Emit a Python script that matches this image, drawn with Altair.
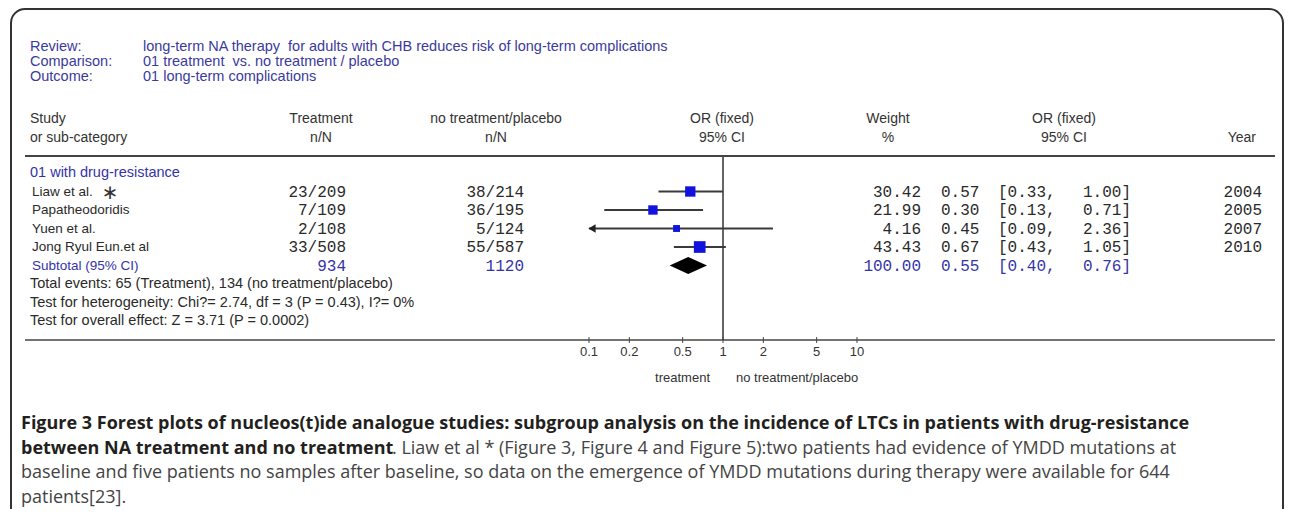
import altair as alt
import pandas as pd

# ---------------- data ----------------
review_labels = ["Review:", "Comparison:", "Outcome:"]
review_values = [
    "long-term NA therapy \u00a0for adults with CHB reduces risk of long-term complications",
    "01 treatment \u00a0vs. no treatment / placebo",
    "01 long-term complications",
]
col_study = ["Study", "or sub-category"]
col_treat = ["Treatment", "n/N"]
col_ctrl = ["no treatment/placebo", "n/N"]
col_or = ["OR (fixed)", "95% CI"]
col_weight = ["Weight", "%"]
col_or2 = ["OR (fixed)", "95% CI"]
col_year = ["", "Year"]

group_label = "01 with drug-resistance"
studies = ["Liaw et al.", "Papatheodoridis", "Yuen et al.", "Jong Ryul Eun.et al"]
treat_events = [23, 7, 2, 33]
treat_total = [209, 109, 108, 508]
ctrl_events = [38, 36, 5, 55]
ctrl_total = [214, 195, 124, 587]
weights = [30.42, 21.99, 4.16, 43.43]
or_est = [0.57, 0.30, 0.45, 0.67]
ci_lo = [0.33, 0.13, 0.09, 0.43]
ci_hi = [1.00, 0.71, 2.36, 1.05]
years = [2004, 2005, 2007, 2010]

subtotal_label = "Subtotal (95% CI)"
sub_treat_total = 934
sub_ctrl_total = 1120
sub_weight = 100.00
sub_or = 0.55
sub_lo = 0.40
sub_hi = 0.76

footer_lines = [
    "Total events: 65 (Treatment), 134 (no treatment/placebo)",
    "Test for heterogeneity: Chi?= 2.74, df = 3 (P = 0.43), I?= 0%",
    "Test for overall effect: Z = 3.71 (P = 0.0002)",
]
axis_ticks = [0.1, 0.2, 0.5, 1, 2, 5, 10]
axis_tick_labels = ["0.1", "0.2", "0.5", "1", "2", "5", "10"]
favours_left = "treatment"
favours_right = "no treatment/placebo"
null_value = [1]

caption_bold = [
    "Figure 3 Forest plots of nucleos(t)ide analogue studies: subgroup analysis on the incidence of LTCs in patients with drug-resistance",
    "between NA treatment and no treatment",
]
caption_line2_rest = ". Liaw et al * (Figure 3, Figure 4 and Figure 5):two patients had evidence of YMDD mutations at"
caption_rest = [
    "baseline and five patients no samples after baseline, so data on the emergence of YMDD mutations during therapy were available for 644",
    "patients[23].",
]

# ---------------- tables ----------------
n = len(studies)
table = pd.DataFrame({
    "row": list(range(1, n + 1)) + [n + 1],
    "kind": ["study"] * n + ["total"],
    "name": studies + [subtotal_label],
    "treat": [f"{a}/{b}" for a, b in zip(treat_events, treat_total)] + [str(sub_treat_total)],
    "ctrl": [f"{a}/{b}" for a, b in zip(ctrl_events, ctrl_total)] + [str(sub_ctrl_total)],
    "weight": [f"{w:.2f}" for w in weights] + [f"{sub_weight:.2f}"],
    "est": [f"{v:.2f}" for v in or_est] + [f"{sub_or:.2f}"],
    "lo": [f"[{v:.2f}," for v in ci_lo] + [f"[{sub_lo:.2f},"],
    "hi": [f"{v:.2f}]" for v in ci_hi] + [f"{sub_hi:.2f}]"],
    "year": [str(y) for y in years] + [""],
})
forest = pd.DataFrame({
    "row": list(range(1, n + 1)),
    "est": or_est, "lo": ci_lo, "hi": ci_hi, "weight": weights,
})
diamond = pd.DataFrame({"x": [sub_lo, sub_or, sub_hi], "peak": [0, 1, 0], "row": [n + 1] * 3})
group_df = pd.DataFrame({"row": [0], "text": [group_label]})
footer_df = pd.DataFrame({"row": list(range(n + 2, n + 2 + len(footer_lines))), "text": footer_lines})
ticks_df = pd.DataFrame({"v": axis_ticks, "label": axis_tick_labels})
null_df = pd.DataFrame({"v": null_value})
one = pd.DataFrame({"a": [0]})

# ---------------- styling ----------------
W, H = 1277, 501
SANS = "Liberation Sans"
MONO = "Liberation Mono"
CAP = "Open Sans"
BLUE = "#3434a8"
DARK = "#2a2a2a"
CAPSIZE = 18
xs = alt.Scale(type="log", domain=[0.1, 10], range=[581, 849])
ys = alt.Scale(domain=[0, 8], range=[165, 313], nice=False, zero=False)
Y = alt.Y("row:Q", scale=ys, axis=None)
COLOR = alt.Color("kind:N", scale=alt.Scale(domain=["study", "total"], range=[DARK, BLUE]), legend=None)

layers = []

# frame
layers.append(alt.Chart(one).mark_rect(fillOpacity=0, stroke="#333333", strokeWidth=2, cornerRadius=14).encode(
    x=alt.value(3), x2=alt.value(1275), y=alt.value(1), y2=alt.value(560)))

# top header (multi-line)
layers.append(alt.Chart(one).mark_text(align="left", baseline="alphabetic", font=SANS, fontSize=14.5,
                                       lineHeight=15, color="#3a3a9c").encode(
    x=alt.value(22), y=alt.value(43), text=alt.value(review_labels)))
layers.append(alt.Chart(one).mark_text(align="left", baseline="alphabetic", font=SANS, fontSize=14.5,
                                       lineHeight=15, color="#3a3a9c").encode(
    x=alt.value(135), y=alt.value(43), text=alt.value(review_values)))

# column headers
for txt, xp, al in [(col_study, 22, "left"), (col_treat, 313, "center"), (col_ctrl, 488, "center"),
                    (col_or, 714, "center"), (col_weight, 880, "center"), (col_or2, 1056, "center"),
                    (col_year, 1248, "right")]:
    layers.append(alt.Chart(one).mark_text(align=al, baseline="alphabetic", font=SANS, fontSize=14,
                                           lineHeight=19, color="#333333").encode(
        x=alt.value(xp), y=alt.value(115), text=alt.value(txt)))

# header separator & axis line
layers.append(alt.Chart(one).mark_rule(color="#444444", strokeWidth=2).encode(
    x=alt.value(17), x2=alt.value(1267), y=alt.value(148)))
layers.append(alt.Chart(one).mark_rule(color="#444444", strokeWidth=1.5).encode(
    x=alt.value(17), x2=alt.value(1267), y=alt.value(332)))

# group label, footer
layers.append(alt.Chart(group_df).mark_text(align="left", baseline="middle", font=SANS, fontSize=14.5,
                                            color=BLUE).encode(x=alt.value(22), y=Y, text="text:N"))
layers.append(alt.Chart(footer_df).mark_text(align="left", baseline="middle", font=SANS, fontSize=14.5,
                                             color=DARK).encode(x=alt.value(22), y=Y, text="text:N"))

# study table columns
layers.append(alt.Chart(table).mark_text(align="left", baseline="middle", font=SANS, fontSize=13.5).encode(
    x=alt.value(24), y=Y, text="name:N", color=COLOR))
for fld, xp, al in [("treat", 338, "right"), ("ctrl", 516, "right"), ("weight", 913, "right"),
                    ("est", 933, "left"), ("lo", 990, "left"), ("hi", 1123, "right"), ("year", 1254, "right")]:
    layers.append(alt.Chart(table).mark_text(align=al, baseline="middle", font=MONO, fontSize=16).encode(
        x=alt.value(xp), y=Y, text=f"{fld}:N", color=COLOR))

# asterisk for Liaw
layers.append(alt.Chart(table).transform_filter("datum.row == 1").mark_text(
    align="center", baseline="middle", font="DejaVu Sans", fontSize=20, color="#333333", dy=1).encode(
    x=alt.value(102), y=Y, text=alt.value("\u2217")))

# null line
layers.append(alt.Chart(null_df).mark_rule(color="#333333", strokeWidth=1.5).encode(
    x=alt.X("v:Q", scale=xs, axis=None), y=alt.value(149), y2=alt.value(332)))

# CIs
ci_base = alt.Chart(forest).transform_calculate(lo_c="max(datum.lo, 0.1)")
layers.append(ci_base.mark_rule(color="#3a3a3a", strokeWidth=2).encode(
    x=alt.X("lo_c:Q", scale=xs, axis=None), x2="hi:Q", y=Y))
layers.append(ci_base.transform_filter("datum.lo < 0.1").mark_point(
    shape="triangle-left", filled=True, size=70, color="#222222", opacity=1, xOffset=3).encode(
    x=alt.X("lo_c:Q", scale=xs, axis=None), y=Y))
layers.append(alt.Chart(forest).mark_square(color="#1212e0", opacity=1).encode(
    x=alt.X("est:Q", scale=xs, axis=None), y=Y,
    size=alt.Size("weight:Q", scale=alt.Scale(domain=[0, 45], range=[38, 140]), legend=None)))

# diamond
layers.append(alt.Chart(diamond).transform_calculate(
    ytop="datum.row - 0.46 * datum.peak", ybot="datum.row + 0.46 * datum.peak").mark_area(
    color="#000000", orient="vertical", opacity=1).encode(
    x=alt.X("x:Q", scale=xs, axis=None), y=alt.Y("ytop:Q", scale=ys, axis=None), y2="ybot:Q"))

# axis ticks & labels
layers.append(alt.Chart(ticks_df).mark_rule(color="#444444", strokeWidth=1).encode(
    x=alt.X("v:Q", scale=xs, axis=None), y=alt.value(329), y2=alt.value(335)))
layers.append(alt.Chart(ticks_df).mark_text(baseline="middle", align="center", font=SANS, fontSize=13,
                                            color="#333333").encode(
    x=alt.X("v:Q", scale=xs, axis=None), y=alt.value(344), text="label:N"))
layers.append(alt.Chart(null_df).mark_text(baseline="middle", align="right", font=SANS, fontSize=13,
                                           color="#333333", dx=-13).encode(
    x=alt.X("v:Q", scale=xs, axis=None), y=alt.value(370), text=alt.value(favours_left)))
layers.append(alt.Chart(null_df).mark_text(baseline="middle", align="left", font=SANS, fontSize=13,
                                           color="#333333", dx=13).encode(
    x=alt.X("v:Q", scale=xs, axis=None), y=alt.value(370), text=alt.value(favours_right)))

# caption
layers.append(alt.Chart(one).mark_text(align="left", baseline="alphabetic", font=CAP, fontSize=CAPSIZE,
                                       fontWeight="bold", lineHeight=24.5, color="#231f20").encode(
    x=alt.value(13), y=alt.value(421), text=alt.value(caption_bold)))
layers.append(alt.Chart(one).mark_text(align="left", baseline="alphabetic", font=CAP, fontSize=CAPSIZE,
                                       color="#444444").encode(
    x=alt.value(384), y=alt.value(445.5), text=alt.value(caption_line2_rest)))
layers.append(alt.Chart(one).mark_text(align="left", baseline="alphabetic", font=CAP, fontSize=CAPSIZE,
                                       lineHeight=24.5, color="#444444").encode(
    x=alt.value(13), y=alt.value(470), text=alt.value(caption_rest)))

chart = alt.layer(*layers).properties(
    width=W, height=H, autosize=alt.AutoSizeParams(type="none"), padding=0, background="white"
).configure_view(stroke=None)

chart.save("out.html", embed_options={"renderer": "svg", "actions": False})
